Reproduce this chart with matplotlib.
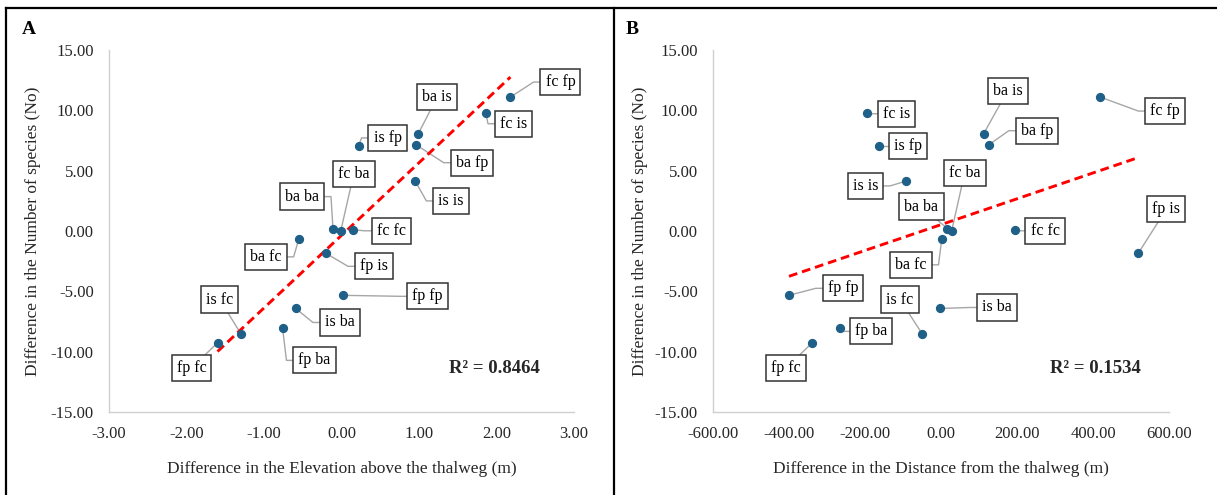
import numpy as np
import matplotlib
matplotlib.use('Agg')
import matplotlib.pyplot as plt
from matplotlib.lines import Line2D

plt.rcParams['font.family'] = ['Liberation Serif', 'DejaVu Serif']

# pairs of habitats compared
names = ['fc fp', 'fc is', 'ba is', 'ba fp', 'is fp', 'is is', 'ba ba', 'fc ba',
         'fc fc', 'ba fc', 'fp is', 'fp fp', 'is ba', 'fp ba', 'is fc', 'fp fc']
species_diff = [11.1, 9.8, 8.05, 7.15, 7.05, 4.15, 0.2, 0.0,
                0.1, -0.65, -1.85, -5.33, -6.42, -8.07, -8.5, -9.27]
elev_diff = [2.18, 1.86, 0.99, 0.96, 0.22, 0.95, -0.11, -0.01,
             0.15, -0.55, -0.20, 0.015, -0.59, -0.76, -1.30, -1.60]
dist_diff = [419, -194, 112, 126, -163, -91, 17, 28,
             195, 2, 519, -400, -2, -266, -50, -339]

r2_a = '0.8464'
r2_b = '0.1534'

# label placement: offset of box centre from the point in pixels (right, down)
# and leader style: 'e' = elbow into the side of the box, 'd' = straight
label_pos_a = {
    'fc fp': (50, -15, 'e'), 'fc is': (28, 11, 'e'), 'ba is': (19, -37, 'd'),
    'ba fp': (56, 18, 'e'), 'is fp': (29, -8, 'e'), 'is is': (36, 20, 'e'),
    'ba ba': (-31, -32, 'e'), 'fc ba': (13, -57, 'd'), 'fc fc': (38, 1, 'e'),
    'ba fc': (-33, 18, 'e'), 'fp is': (48, 13, 'e'), 'fp fp': (85, 1, 'e'),
    'is ba': (44, 14, 'e'), 'fp ba': (32, 32, 'e'), 'is fc': (-21, -34, 'd'),
    'fp fc': (-26, 25, 'd'),
}
label_pos_b = {
    'fc fp': (65, 14, 'e'), 'fc is': (29, 1, 'e'), 'ba is': (24, -43, 'd'),
    'ba fp': (48, -14, 'e'), 'is fp': (29, 0, 'e'), 'is is': (-41, 5, 'e'),
    'ba ba': (-26, -22, 'd'), 'fc ba': (13, -58, 'd'), 'fc fc': (30, 1, 'e'),
    'ba fc': (-31, 26, 'e'), 'fp is': (28, -44, 'd'), 'fp fp': (54, -7, 'e'),
    'is ba': (57, -1, 'e'), 'fp ba': (31, 3, 'e'), 'is fc': (-22, -34, 'd'),
    'fp fc': (-26, 25, 'd'),
}

W, H = 1217, 495
fig = plt.figure(figsize=(W / 100, H / 100), dpi=100)
renderer = fig.canvas.get_renderer()

DOT = '#1f6088'
SPINE = '#d0d0d0'
TXT = '#262626'


def add_labels(ax, xs, ys, positions):
    to_data = ax.transData.inverted()
    for name, x, y in zip(names, xs, ys):
        dx, dy, kind = positions[name]
        px, py = ax.transData.transform((x, y))
        cx, cy = px + dx, py - dy
        cdata = to_data.transform((cx, cy))
        t = ax.text(cdata[0], cdata[1], name, ha='center', va='center',
                    fontsize=11.5, color='black', zorder=5,
                    bbox=dict(boxstyle='square,pad=0.32', fc='white',
                              ec='#333333', lw=1.1))
        hw = t.get_window_extent(renderer).width / 2 + 5
        if kind == 'e':
            side = 1 if dx > 0 else -1
            kx = cx - side * (hw + 7)
            pts = [(px, py), (kx, cy), (cx, cy)]
        else:
            pts = [(px, py), (cx, cy)]
        d = to_data.transform(pts)
        ax.plot(d[:, 0], d[:, 1], color='#a6a6a6', lw=1.0, zorder=2,
                clip_on=False)


def setup_panel(rect, xs, ys, xticks, xlabel, letter, r2, positions,
                label_x, r2_x):
    ax = fig.add_axes(rect)
    ax.set_xlim(xticks[0], xticks[-1])
    ax.set_ylim(-15, 15)
    ax.set_xticks(xticks)
    ax.set_yticks(np.arange(-15, 16, 5))
    ax.set_xticklabels(['{:.2f}'.format(v) for v in xticks])
    ax.set_yticklabels(['{:.2f}'.format(v) for v in np.arange(-15, 16, 5)])
    ax.tick_params(length=0, labelsize=12, colors=TXT)
    ax.tick_params(axis='y', pad=11)
    ax.tick_params(axis='x', pad=10)
    for s in ['top', 'right']:
        ax.spines[s].set_visible(False)
    for s in ['left', 'bottom']:
        ax.spines[s].set_color(SPINE)
        ax.spines[s].set_linewidth(1.0)

    ax.scatter(xs, ys, s=32, color=DOT, zorder=4, clip_on=False)

    # linear trend line over the data range
    k, b = np.polyfit(xs, ys, 1)
    xl = np.array([min(xs), max(xs)])
    ax.plot(xl, k * xl + b, color='#ff0000', lw=2.1,
            linestyle=(0, (3, 1.7)), zorder=3)

    ax.set_xlabel(xlabel, fontsize=12.5, color=TXT)
    ax.set_ylabel('Difference in the Number of species (No)', fontsize=12.5,
                  color=TXT)
    ax.xaxis.set_label_coords(0.5, -0.135)
    ax.yaxis.set_label_coords(label_x, 0.5)

    ax.text(r2_x, 0.12, 'R² = ' + r2, transform=ax.transAxes, ha='right',
            va='center', fontsize=13.5, fontweight='bold', color=TXT)
    fig.text(rect[0] - 0.072, 1 - 29 / H, letter, fontsize=14,
             fontweight='bold', ha='left', va='center')

    add_labels(ax, xs, ys, positions)
    return ax


setup_panel([109 / W, 1 - 412 / H, 465 / W, 362 / H], elev_diff, species_diff,
            np.arange(-3, 4, 1), 'Difference in the Elevation above the thalweg (m)',
            'A', r2_a, label_pos_a, -0.146, 0.927)
setup_panel([713 / W, 1 - 412 / H, 456 / W, 362 / H], dist_diff, species_diff,
            np.arange(-600, 601, 200), 'Difference in the Distance from the thalweg (m)',
            'B', r2_b, label_pos_b, -0.143, 0.939)

# panel frames
frame = dict(color='black', lw=1.6, transform=fig.transFigure)
fig.add_artist(Line2D([6 / W, 1], [1 - 8 / H, 1 - 8 / H], **frame))
fig.add_artist(Line2D([6 / W, 6 / W], [0, 1 - 8 / H], **frame))
fig.add_artist(Line2D([613.5 / W, 613.5 / W], [0, 1 - 8 / H], **frame))

fig.savefig('out.png', dpi=100, facecolor='white')
